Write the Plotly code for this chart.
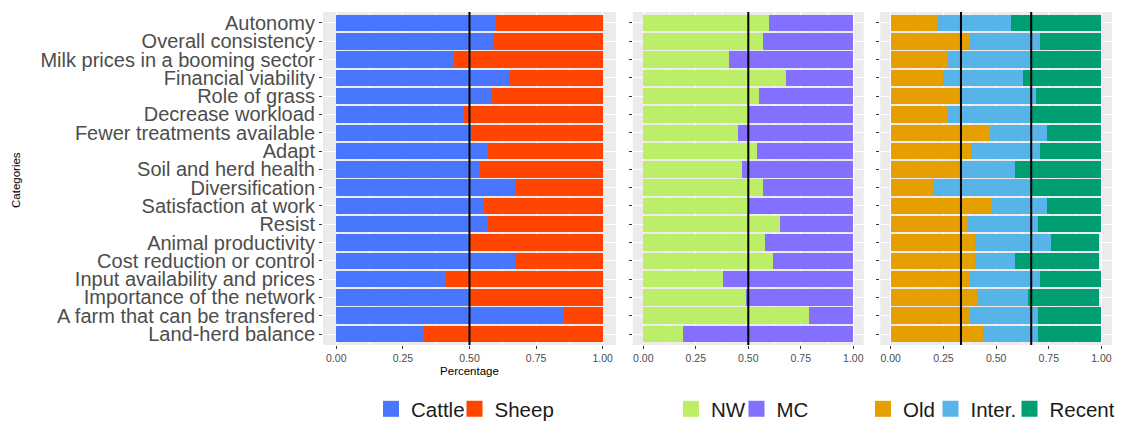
import plotly.graph_objects as go

categories = [
    "Autonomy", "Overall consistency", "Milk prices in a booming sector",
    "Financial viability", "Role of grass", "Decrease workload",
    "Fewer treatments available", "Adapt", "Soil and herd health",
    "Diversification", "Satisfaction at work", "Resist",
    "Animal productivity", "Cost reduction or control",
    "Input availability and prices", "Importance of the network",
    "A farm that can be transfered", "Land-herd balance",
]

cattle = [0.60, 0.59, 0.44, 0.65, 0.58, 0.48, 0.51, 0.57, 0.54, 0.67,
          0.55, 0.57, 0.50, 0.67, 0.41, 0.50, 0.85, 0.33]
sheep = [0.40, 0.41, 0.56, 0.35, 0.42, 0.52, 0.49, 0.43, 0.46, 0.33,
         0.45, 0.43, 0.50, 0.33, 0.59, 0.50, 0.15, 0.67]

nw = [0.60, 0.57, 0.41, 0.68, 0.55, 0.50, 0.45, 0.54, 0.47, 0.57,
      0.50, 0.65, 0.58, 0.62, 0.38, 0.49, 0.79, 0.19]
mc = [0.40, 0.43, 0.59, 0.32, 0.45, 0.50, 0.55, 0.46, 0.53, 0.43,
      0.50, 0.35, 0.42, 0.38, 0.62, 0.51, 0.21, 0.81]

old = [0.22, 0.37, 0.27, 0.25, 0.33, 0.27, 0.47, 0.38, 0.33, 0.20,
       0.48, 0.36, 0.40, 0.40, 0.37, 0.41, 0.37, 0.44]
inter = [0.35, 0.34, 0.40, 0.38, 0.36, 0.40, 0.27, 0.33, 0.26, 0.47,
         0.26, 0.34, 0.36, 0.19, 0.34, 0.24, 0.33, 0.26]
recent = [0.43, 0.29, 0.33, 0.37, 0.31, 0.33, 0.26, 0.29, 0.41, 0.33,
          0.26, 0.30, 0.23, 0.40, 0.29, 0.34, 0.30, 0.30]

x_ticks = [0, 0.25, 0.5, 0.75, 1.0]
x_tick_labels = ["0.00", "0.25", "0.50", "0.75", "1.00"]
ref_lines = [[0.5], [0.5], [1 / 3, 2 / 3]]

panels = [
    [("Cattle", cattle, "#4876FF"), ("Sheep", sheep, "#FF4500")],
    [("NW", nw, "#BCEE68"), ("MC", mc, "#8470FF")],
    [("Old", old, "#E69F00"), ("Inter.", inter, "#56B4E9"), ("Recent", recent, "#009E73")],
]

W, H = 1122, 421
FONT = "Liberation Sans, Arial, sans-serif"

# plot area in figure px (page has an 8px body margin)
ML, MR, MT, MB = 315, 18, 4, 84
PW, PH = W - ML - MR, H - MT - MB
# panel extents in figure px
panels_px = [(315, 608), (624.8, 855.8), (872.2, 1104)]

def px_x(v):
    return (v - ML) / PW

def px_y(v):
    return (H - MB - v) / PH

# legend left positions (figure px) for each entry
legend_left_px = [363, 446.5, 663, 728.5, 855, 922.5, 1001.5]

fig = go.Figure()
leg_i = 0
for p, series in enumerate(panels):
    ax = "" if p == 0 else str(p + 1)
    for name, vals, color in series:
        fig.add_trace(go.Bar(
            x=vals, y=categories, orientation="h", name=name,
            marker=dict(color=color, line=dict(width=0)),
            xaxis="x" + ax, yaxis="y" + ax, showlegend=False,
        ))
        lname = "legend" if leg_i == 0 else "legend" + str(leg_i + 1)
        fig.add_trace(go.Scatter(
            x=[None], y=[None], mode="markers", name=name,
            marker=dict(symbol="square", size=17, color=color),
            xaxis="x" + ax, yaxis="y" + ax, showlegend=True, legend=lname,
        ))
        leg_i += 1
    for v in ref_lines[p]:
        fig.add_shape(type="line", xref="x" + ax, yref="y" + ax + " domain",
                      x0=v, x1=v, y0=0, y1=1,
                      line=dict(color="black", width=2))

layout = dict(
    width=W, height=H, barmode="stack", bargap=0.1,
    margin=dict(l=ML, r=MR, t=MT, b=MB, autoexpand=False),
    paper_bgcolor="white", plot_bgcolor="#EBEBEB",
    font=dict(family=FONT, color="#4D4D4D"),
    showlegend=True,
)

for p in range(3):
    sfx = "" if p == 0 else str(p + 1)
    d0, d1 = panels_px[p]
    layout["xaxis" + sfx] = dict(
        domain=[max(0, px_x(d0)), min(1, px_x(d1))], range=[-0.05, 1.05],
        tickmode="array", tickvals=x_ticks, ticktext=x_tick_labels,
        ticks="outside", ticklen=3, tickcolor="#333333",
        tickfont=dict(size=10.5, color="#4D4D4D"),
        showgrid=True, gridcolor="white", gridwidth=1.1,
        minor=dict(tickvals=[0.125, 0.375, 0.625, 0.875], showgrid=True,
                   gridcolor="white", gridwidth=0.5, ticks=""),
        zeroline=False, showline=False, anchor="y" + sfx, fixedrange=True,
        automargin=False,
    )
    layout["yaxis" + sfx] = dict(
        domain=[0, 1], type="category", categoryorder="array",
        categoryarray=categories, range=[17.6, -0.6],
        tickmode="array", tickvals=categories, ticktext=categories,
        ticks="outside", ticklen=3, tickcolor="#333333",
        showticklabels=(p == 0),
        tickfont=dict(size=20, color="#4D4D4D"),
        showgrid=True, gridcolor="white", gridwidth=1.1,
        zeroline=False, showline=False, anchor="x" + sfx,
        automargin=False,
    )

layout["xaxis"]["title"] = dict(text="Percentage", standoff=4,
                                font=dict(size=11.5, color="black"))

for i, lx in enumerate(legend_left_px):
    lname = "legend" if i == 0 else "legend" + str(i + 1)
    layout[lname] = dict(
        x=px_x(lx), xanchor="left", y=px_y(401), yanchor="middle",
        orientation="h", bgcolor="rgba(0,0,0,0)", borderwidth=0,
        font=dict(size=20.5, color="#1A1A1A", family=FONT),
        itemsizing="trace", itemclick=False, itemdoubleclick=False,
    )

fig.update_layout(**layout)

fig.add_annotation(text="Categories", xref="paper", yref="paper",
                   x=px_x(8), y=px_y(172), textangle=-90, showarrow=False,
                   font=dict(size=11.5, color="black", family=FONT),
                   xanchor="center", yanchor="middle")

fig.write_html("out.html")
